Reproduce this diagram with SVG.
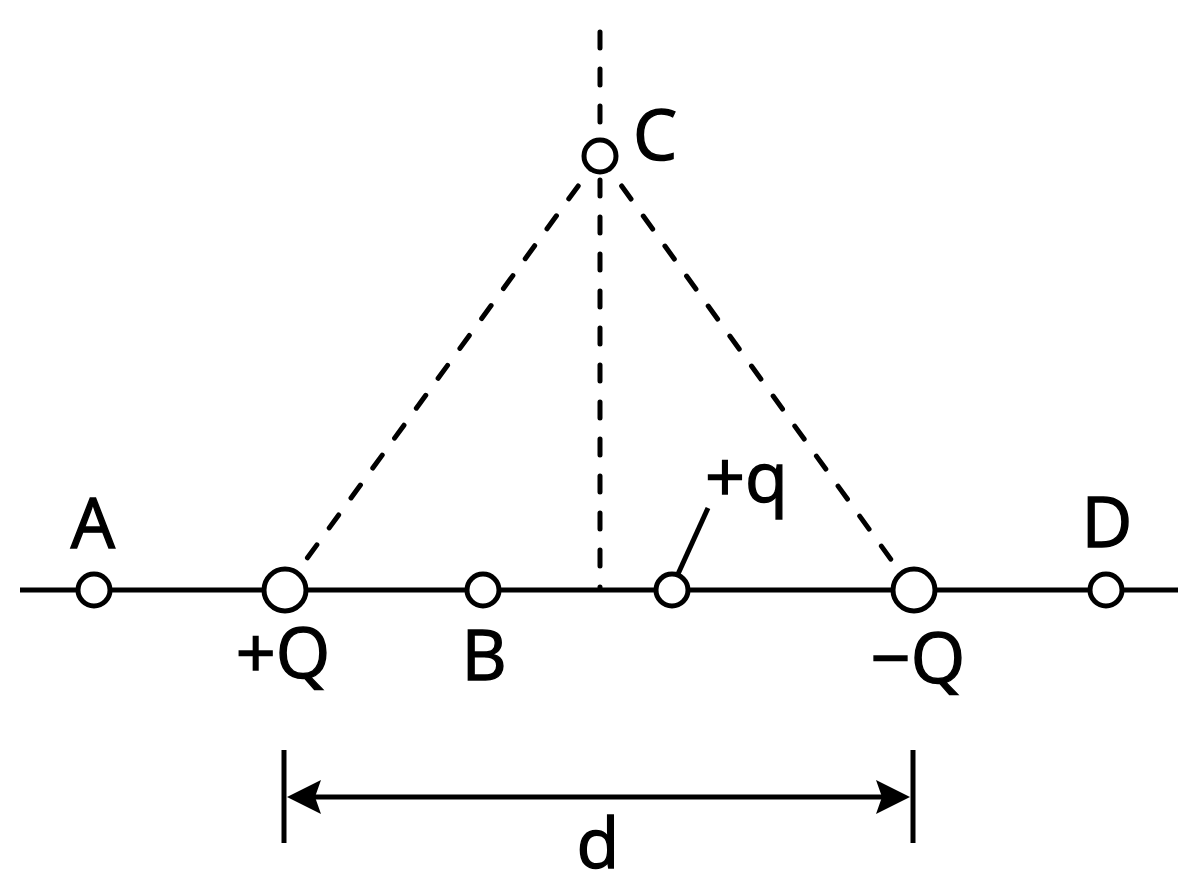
<svg xmlns="http://www.w3.org/2000/svg" width="1200" height="896" viewBox="0 0 1200 896">
<style>
.ln{stroke:#000;stroke-width:5;fill:none}
.dash{stroke:#000;stroke-width:5;fill:none;stroke-dasharray:16 21;stroke-linecap:round}
.pt{fill:#fff;stroke:#000;stroke-width:5}
.lbl{font-family:"Open Sans","Liberation Sans",sans-serif;font-size:70px;fill:#000;stroke:#000;stroke-width:1.4}
</style>
<defs>
<marker id="ah" markerUnits="userSpaceOnUse" viewBox="0 0 34 34" markerWidth="34" markerHeight="34" refX="6" refY="17" orient="auto-start-reverse">
<path d="M0,0 L34,17 L0,34 L6,17 Z" fill="#000"/>
</marker>
</defs>
<rect width="1200" height="896" fill="#fff"/>
<g id="connectors">
<line class="ln" x1="20" y1="590" x2="1178" y2="590"/>
<line class="dash" x1="600" y1="32" x2="600" y2="588"/>
<line class="dash" x1="600" y1="156" x2="284" y2="590"/>
<line class="dash" x1="600" y1="156" x2="913" y2="590"/>
<line class="ln" x1="678" y1="574" x2="708" y2="508"/>
<line class="ln" x1="284" y1="750" x2="284" y2="843"/>
<line class="ln" x1="913" y1="750" x2="913" y2="843"/>
<line class="ln" x1="315" y1="797" x2="882" y2="797" marker-start="url(#ah)" marker-end="url(#ah)"/>
</g>
<g id="A"><circle class="pt" cx="94" cy="590" r="16"/><text class="lbl" x="93" y="548" text-anchor="middle">A</text></g>
<g id="plusQ"><circle class="pt" cx="285" cy="590" r="21"/><text class="lbl" x="283" y="678" text-anchor="middle">+Q</text></g>
<g id="B"><circle class="pt" cx="483" cy="590" r="16"/><text class="lbl" x="484" y="680" text-anchor="middle">B</text></g>
<g id="plusq"><circle class="pt" cx="672" cy="590" r="16"/><text class="lbl" x="705" y="502">+q</text></g>
<g id="minusQ"><circle class="pt" cx="914" cy="590" r="21"/><text class="lbl" x="918" y="683" text-anchor="middle">−Q</text></g>
<g id="D"><circle class="pt" cx="1106" cy="590" r="16"/><text class="lbl" x="1107" y="547" text-anchor="middle">D</text></g>
<g id="C"><circle class="pt" cx="600" cy="156" r="16"/><text class="lbl" x="633" y="160">C</text></g>
<g id="d"><text class="lbl" x="598" y="868" text-anchor="middle">d</text></g>
</svg>
